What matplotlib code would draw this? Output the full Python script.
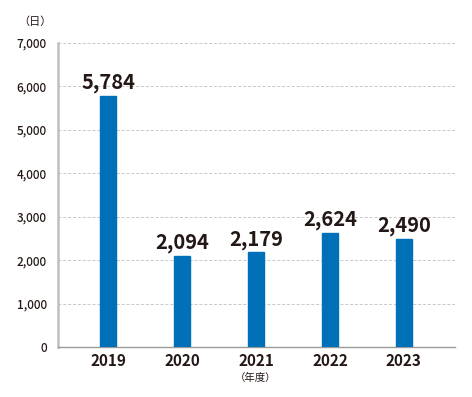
import matplotlib
matplotlib.use("Agg")
import matplotlib.pyplot as plt

years = ["2019", "2020", "2021", "2022", "2023"]
days = [5784, 2094, 2179, 2624, 2490]
labels = ["5,784", "2,094", "2,179", "2,624", "2,490"]
yticks = [0, 1000, 2000, 3000, 4000, 5000, 6000, 7000]
ytick_labels = ["0", "1,000", "2,000", "3,000", "4,000", "5,000", "6,000", "7,000"]

plt.rcParams['font.family'] = ['Noto Sans CJK JP', 'DejaVu Sans']
txt = "#231815"

fig = plt.figure(figsize=(4.72, 3.97), dpi=100)
ax = fig.add_axes([0.1229, 0.126, 0.841, 0.766])

x = list(range(len(years)))
ax.bar(x, days, width=0.22, color="#0070b9", edgecolor="#0070b9", zorder=3)
for xi, v, lab in zip(x, days, labels):
    ax.annotate(lab, (xi, v), xytext=(0, 2), textcoords="offset points",
                ha="center", va="bottom", fontsize=14.5, fontweight="bold", color=txt, zorder=4)

ax.set_xlim(-0.676, 4.69)
ax.set_ylim(0, 7000)
ax.set_yticks(yticks)
ax.set_yticklabels(ytick_labels, fontsize=8.5, fontweight="medium", color=txt)
ax.set_xticks(x)
ax.set_xticklabels(years, fontsize=11, fontweight="bold", color=txt)
ax.tick_params(axis="both", length=0)
ax.tick_params(axis="y", pad=8)
ax.tick_params(axis="x", pad=4)

ax.grid(axis="y", linestyle=(0, (3, 2)), color="#c8c8c8", linewidth=0.7, zorder=0)
for s in ["top", "right"]:
    ax.spines[s].set_visible(False)
ax.spines["left"].set_color("#c0c0c0")
ax.spines["left"].set_linewidth(1.8)
ax.spines["bottom"].set_color("#9a9a9a")
ax.spines["bottom"].set_linewidth(1.0)

fig.text(0.038, 0.945, "（日）", fontsize=8, color=txt, ha="left", va="center")
ax.text(2, -0.085, "（年度）", transform=ax.get_xaxis_transform(), fontsize=7.5,
        color=txt, ha="center", va="top")

fig.savefig("out.png", dpi=100)
